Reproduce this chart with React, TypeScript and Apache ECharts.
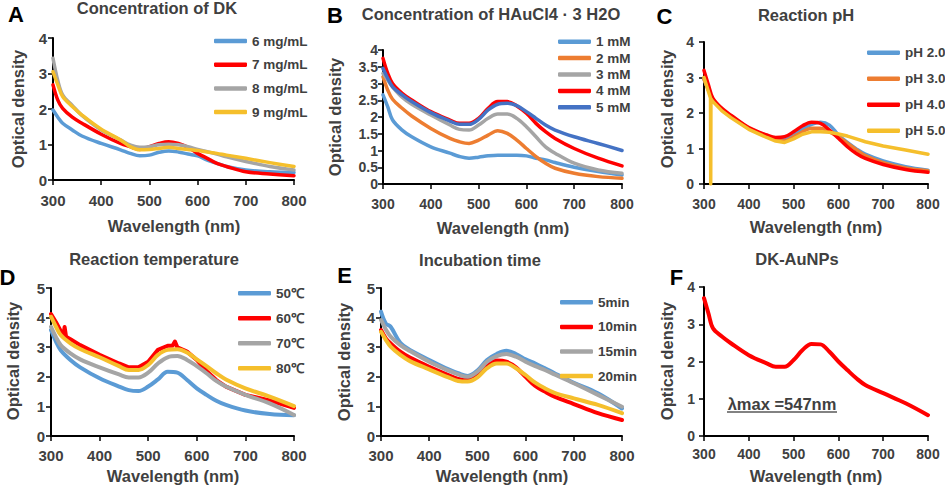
import React, { useEffect, useRef } from "react";
import * as echarts from "echarts";

// ---------- DATA ----------
const WAVELENGTHS = [300, 310, 320, 340, 360, 400, 440, 460, 480, 500, 520, 540, 560, 580, 600, 620, 640, 660, 700, 750, 800];
const X_TICKS = [300, 400, 500, 600, 700, 800];

// A: Concentration of DK
const A_NAMES = ["6 mg/mL", "7 mg/mL", "8 mg/mL", "9 mg/mL"];
const A_6 = [1.97, 1.77, 1.6, 1.41, 1.24, 1.03, 0.85, 0.75, 0.68, 0.7, 0.78, 0.82, 0.79, 0.73, 0.68, 0.56, 0.47, 0.38, 0.28, 0.23, 0.21];
const A_7 = [2.68, 2.25, 2.02, 1.77, 1.6, 1.29, 1.03, 0.94, 0.86, 0.94, 1.03, 1.08, 1.03, 0.92, 0.75, 0.61, 0.47, 0.38, 0.23, 0.17, 0.12];
const A_8 = [3.43, 2.8, 2.4, 2.1, 1.82, 1.41, 1.13, 0.99, 0.92, 0.94, 0.99, 1.01, 0.99, 0.94, 0.86, 0.8, 0.73, 0.65, 0.52, 0.38, 0.28];
const A_9 = [3.05, 2.68, 2.35, 2.07, 1.83, 1.43, 1.13, 0.94, 0.85, 0.86, 0.89, 0.92, 0.89, 0.86, 0.83, 0.79, 0.75, 0.7, 0.61, 0.49, 0.38];

// B: Concentration of HAuCl4 · 3 H2O
const B_NAMES = ["1 mM", "2 mM", "3 mM", "4 mM", "5 mM"];
const B_1 = [2.66, 2.3, 1.91, 1.61, 1.41, 1.11, 0.92, 0.82, 0.77, 0.8, 0.84, 0.86, 0.86, 0.86, 0.84, 0.77, 0.72, 0.64, 0.5, 0.37, 0.27];
const B_2 = [3.2, 2.8, 2.53, 2.26, 2.03, 1.66, 1.36, 1.26, 1.21, 1.31, 1.46, 1.59, 1.51, 1.31, 1.06, 0.82, 0.62, 0.47, 0.32, 0.22, 0.17];
const B_3 = [3.3, 3.1, 2.9, 2.59, 2.38, 2.06, 1.76, 1.63, 1.61, 1.76, 1.96, 2.09, 2.09, 1.96, 1.71, 1.41, 1.11, 0.92, 0.62, 0.42, 0.32];
const B_4 = [3.75, 3.3, 3.0, 2.71, 2.51, 2.16, 1.91, 1.81, 1.81, 1.96, 2.26, 2.46, 2.46, 2.33, 2.11, 1.81, 1.56, 1.36, 1.06, 0.77, 0.54];
const B_5 = [3.45, 3.15, 2.9, 2.66, 2.46, 2.13, 1.88, 1.78, 1.78, 1.93, 2.21, 2.38, 2.41, 2.34, 2.16, 1.96, 1.76, 1.61, 1.41, 1.21, 1.0];

// C: Reaction pH
const C_NAMES = ["pH 2.0", "pH 3.0", "pH 4.0", "pH 5.0"];
const C_2 = [2.95, 2.65, 2.38, 2.1, 1.92, 1.57, 1.36, 1.28, 1.24, 1.38, 1.55, 1.68, 1.74, 1.66, 1.38, 1.17, 0.99, 0.84, 0.65, 0.49, 0.39];
const C_3 = [2.95, 2.65, 2.38, 2.1, 1.92, 1.57, 1.34, 1.25, 1.21, 1.33, 1.47, 1.57, 1.57, 1.47, 1.33, 1.15, 0.97, 0.8, 0.6, 0.45, 0.37];
const C_4 = [3.2, 2.79, 2.41, 2.13, 1.94, 1.59, 1.38, 1.31, 1.33, 1.47, 1.64, 1.74, 1.71, 1.52, 1.29, 1.05, 0.86, 0.72, 0.55, 0.41, 0.33];
const C_5_WL = [300, 310, 314.5, 315, 315.5, 320, 340, 360, 400, 440, 460, 480, 500, 520, 540, 560, 580, 600, 620, 640, 660, 700, 750, 800];
const C_5 = [3.0, 2.6, 2.42, 0, 2.4, 2.32, 2.06, 1.87, 1.54, 1.31, 1.21, 1.17, 1.27, 1.4, 1.47, 1.47, 1.46, 1.41, 1.35, 1.27, 1.19, 1.07, 0.96, 0.84];

// D: Reaction temperature
const D_NAMES = ["50℃", "60℃", "70℃", "80℃"];
const D_50 = [3.58, 3.2, 2.9, 2.57, 2.32, 1.95, 1.67, 1.55, 1.52, 1.67, 1.91, 2.17, 2.14, 1.89, 1.61, 1.39, 1.19, 1.05, 0.86, 0.74, 0.7];
const D_60_WL = [300, 310, 320, 326, 328, 331, 340, 360, 400, 440, 460, 480, 500, 520, 540, 550, 555, 560, 580, 600, 620, 640, 660, 700, 750, 800];
const D_60 = [4.12, 3.85, 3.55, 3.42, 3.68, 3.35, 3.27, 3.07, 2.74, 2.45, 2.32, 2.32, 2.51, 2.91, 3.05, 3.05, 3.19, 3.0, 2.85, 2.57, 2.2, 1.89, 1.67, 1.39, 1.2, 0.95];
const D_70 = [3.69, 3.35, 3.07, 2.79, 2.59, 2.32, 2.08, 1.98, 1.98, 2.14, 2.45, 2.66, 2.7, 2.57, 2.36, 2.12, 1.86, 1.67, 1.39, 1.1, 0.71];
const D_80 = [4.03, 3.7, 3.41, 3.13, 2.94, 2.66, 2.36, 2.23, 2.23, 2.4, 2.74, 2.91, 2.93, 2.82, 2.59, 2.36, 2.12, 1.91, 1.61, 1.33, 1.01];

// E: Incubation time
const E_NAMES = ["5min", "10min", "15min", "20min"];
const E_5 = [4.2, 3.8, 3.69, 3.15, 2.91, 2.57, 2.25, 2.12, 2.03, 2.21, 2.57, 2.77, 2.88, 2.77, 2.59, 2.45, 2.29, 2.12, 1.8, 1.44, 0.93];
const E_10 = [3.58, 3.3, 3.13, 2.85, 2.65, 2.34, 2.06, 1.93, 1.89, 2.06, 2.36, 2.55, 2.51, 2.32, 2.0, 1.69, 1.5, 1.33, 1.08, 0.77, 0.54];
const E_15 = [3.92, 3.6, 3.36, 3.07, 2.87, 2.51, 2.21, 2.08, 2.0, 2.17, 2.51, 2.7, 2.77, 2.68, 2.51, 2.36, 2.23, 2.08, 1.78, 1.39, 0.99];
const E_20 = [3.52, 3.25, 3.02, 2.74, 2.53, 2.25, 1.98, 1.86, 1.84, 1.98, 2.29, 2.45, 2.45, 2.29, 2.06, 1.8, 1.61, 1.46, 1.27, 1.05, 0.77];

// F: DK-AuNPs
const F_NAME = "DK-AuNPs";
const F_VALUES = [3.7, 3.29, 2.89, 2.67, 2.49, 2.17, 1.95, 1.86, 1.86, 2.04, 2.31, 2.47, 2.46, 2.26, 2.0, 1.77, 1.55, 1.37, 1.15, 0.88, 0.56];

const TITLES = ["Concentration of DK", "Concentration of HAuCl4 · 3 H2O", "Reaction pH", "Reaction temperature", "Incubation time", "DK-AuNPs"];
const LETTERS = ["A", "B", "C", "D", "E", "F"];
const X_NAME = "Wavelength (nm)";
const Y_NAME = "Optical density";
const ANNOTATION = "λmax =547nm";

// ---------- STYLE ----------
const FONT = "'Liberation Sans', Arial, Helvetica, sans-serif";
const TXT = "#404040";
const BLUE = "#5B9BD5";
const RED = "#FF0000";
const GRAY = "#A5A5A5";
const YELLOW = "#F5BF2C";
const ORANGE = "#ED7D31";
const DBLUE = "#4472C4";

const PANELS = [
  { grid: { left: 53, top: 38, width: 241, height: 142 }, yMax: 4, yStep: 1, fs: 15, xm: 13, ym: 6, legend: { left: 214, top: 33, gap: 7.7, lh: 16 }, names: A_NAMES, title: [157, 8], letter: [16, 14.5], yName: [17.5, 109], xName: [174, 226] },
  { grid: { left: 383, top: 50, width: 239, height: 134 }, yMax: 4, yStep: 0.5, fs: 14, xm: 13, ym: 5, legend: { left: 558, top: 34.7, gap: 2.4, lh: 14 }, names: B_NAMES, title: [491, 14], letter: [335, 15.5], yName: [335, 117], xName: [503, 228] },
  { grid: { left: 704, top: 42, width: 224, height: 142 }, yMax: 4, yStep: 1, fs: 14, xm: 13, ym: 10, legend: { left: 867, top: 44.7, gap: 10, lh: 16 }, names: C_NAMES, title: [806, 15], letter: [664.5, 16.5], yName: [667, 109], xName: [816, 227] },
  { grid: { left: 51, top: 288, width: 243, height: 148 }, yMax: 5, yStep: 1, fs: 15, xm: 11.5, ym: 6, legend: { left: 238, top: 285.3, gap: 9, lh: 16 }, names: D_NAMES, title: [154, 259], letter: [7.5, 277.5], yName: [13, 361], xName: [173, 476] },
  { grid: { left: 381, top: 288, width: 241, height: 148 }, yMax: 5, yStep: 1, fs: 15, xm: 11.5, ym: 6, legend: { left: 560, top: 294.3, gap: 8.6, lh: 16 }, names: E_NAMES, title: [480, 260], letter: [344.5, 275], yName: [344, 362], xName: [502, 476] },
  { grid: { left: 704, top: 287, width: 224, height: 149 }, yMax: 4, yStep: 1, fs: 14, xm: 10.5, ym: 9, legend: null, names: [], title: [797, 259], letter: [676.5, 277], yName: [667, 361], xName: [816, 476] },
];

function pairs(xs: number[], ys: number[]) {
  return xs.map((x, i) => [x, ys[i]]);
}

function lineSeries(name: string, idx: number, xs: number[], ys: number[], color: string, smooth: boolean | number = 0.35, width = 3.5) {
  return {
    type: "line",
    name,
    xAxisIndex: idx,
    yAxisIndex: idx,
    data: pairs(xs, ys),
    showSymbol: false,
    symbol: "none",
    smooth,
    silent: true,
    color,
    itemStyle: { color },
    lineStyle: { width, color, cap: "round", join: "round" },
  };
}

export default function App() {
  const ref = useRef<HTMLDivElement>(null);

  useEffect(() => {
    if (!ref.current) return;
    const chart = echarts.init(ref.current, undefined, { renderer: "svg" });

    const grids = PANELS.map((p) => ({ ...p.grid, containLabel: false }));
    const xAxes = PANELS.map((p, i) => ({
      type: "value",
      gridIndex: i,
      min: X_TICKS[0],
      max: X_TICKS[X_TICKS.length - 1],
      interval: X_TICKS[1] - X_TICKS[0],
      axisLine: { show: true, onZero: false, lineStyle: { color: "#000", width: 2 } },
      axisTick: { show: true, length: 5, lineStyle: { color: "#000", width: 1.5 } },
      axisLabel: { color: TXT, fontSize: p.fs, fontWeight: "bold", fontFamily: FONT, margin: p.xm },
      splitLine: { show: false },
    }));
    const yAxes = PANELS.map((p, i) => ({
      type: "value",
      gridIndex: i,
      min: 0,
      max: p.yMax,
      interval: p.yStep,
      axisLine: { show: true, onZero: false, lineStyle: { color: "#000", width: 2 } },
      axisTick: { show: true, length: 5, lineStyle: { color: "#000", width: 1.5 } },
      axisLabel: { color: TXT, fontSize: p.fs, fontWeight: "bold", fontFamily: FONT, margin: p.ym },
      splitLine: { show: false },
    }));

    const W = WAVELENGTHS;
    const series = [
      lineSeries(A_NAMES[0], 0, W, A_6, BLUE),
      lineSeries(A_NAMES[1], 0, W, A_7, RED),
      lineSeries(A_NAMES[2], 0, W, A_8, GRAY),
      lineSeries(A_NAMES[3], 0, W, A_9, YELLOW),
      lineSeries(B_NAMES[0], 1, W, B_1, BLUE),
      lineSeries(B_NAMES[1], 1, W, B_2, ORANGE),
      lineSeries(B_NAMES[2], 1, W, B_3, GRAY),
      lineSeries(B_NAMES[3], 1, W, B_4, RED),
      lineSeries(B_NAMES[4], 1, W, B_5, DBLUE),
      lineSeries(C_NAMES[0], 2, W, C_2, BLUE),
      lineSeries(C_NAMES[1], 2, W, C_3, ORANGE),
      lineSeries(C_NAMES[2], 2, W, C_4, RED),
      lineSeries(C_NAMES[3], 2, C_5_WL, C_5, YELLOW, false),
      lineSeries(D_NAMES[0], 3, W, D_50, BLUE, 0.35, 4),
      lineSeries(D_NAMES[1], 3, D_60_WL, D_60, RED, false, 4),
      lineSeries(D_NAMES[2], 3, W, D_70, GRAY, 0.35, 4),
      lineSeries(D_NAMES[3], 3, W, D_80, YELLOW, 0.35, 4),
      lineSeries(E_NAMES[0], 4, W, E_5, BLUE, 0.35, 4),
      lineSeries(E_NAMES[1], 4, W, E_10, RED, 0.35, 4),
      lineSeries(E_NAMES[2], 4, W, E_15, GRAY, 0.35, 4),
      lineSeries(E_NAMES[3], 4, W, E_20, YELLOW, 0.35, 4),
      lineSeries(F_NAME, 5, W, F_VALUES, RED, 0.35, 4),
    ];

    const legends = PANELS.filter((p) => p.legend).map((p) => ({
      data: p.names,
      orient: "vertical",
      left: p.legend!.left,
      top: p.legend!.top,
      itemGap: p.legend!.gap,
      itemWidth: 33,
      itemHeight: 4.5,
      icon: "roundRect",
      padding: 0,
      selectedMode: false,
      textStyle: { color: TXT, fontSize: 13.5, fontWeight: "bold", fontFamily: FONT, lineHeight: p.legend!.lh },
    }));

    const graphics: any[] = [];
    PANELS.forEach((p, i) => {
      graphics.push({
        type: "text", x: p.title[0], y: p.title[1], silent: true,
        style: { text: TITLES[i], fill: TXT, fontSize: 16.5, fontWeight: "bold", fontFamily: FONT, align: "center", verticalAlign: "middle" },
      });
      graphics.push({
        type: "text", x: p.letter[0], y: p.letter[1], silent: true,
        style: { text: LETTERS[i], fill: "#000", fontSize: 22, fontWeight: "bold", fontFamily: FONT, align: "center", verticalAlign: "middle" },
      });
      graphics.push({
        type: "text", x: p.yName[0], y: p.yName[1], rotation: Math.PI / 2, silent: true,
        style: { text: Y_NAME, fill: TXT, fontSize: 16.5, fontWeight: "bold", fontFamily: FONT, align: "center", verticalAlign: "middle" },
      });
      graphics.push({
        type: "text", x: p.xName[0], y: p.xName[1], silent: true,
        style: { text: X_NAME, fill: TXT, fontSize: 16.5, fontWeight: "bold", fontFamily: FONT, align: "center", verticalAlign: "middle" },
      });
    });
    graphics.push({
      type: "text", x: 782, y: 403.5, silent: true,
      style: { text: ANNOTATION, fill: TXT, fontSize: 16.5, fontWeight: "bold", fontFamily: FONT, align: "center", verticalAlign: "middle" },
    });
    graphics.push({
      type: "line", silent: true,
      shape: { x1: 727, y1: 412, x2: 837, y2: 412 },
      style: { stroke: "#595959", lineWidth: 1.5 },
    });

    chart.setOption({
      animation: false,
      backgroundColor: "#fff",
      grid: grids,
      xAxis: xAxes,
      yAxis: yAxes,
      legend: legends,
      series,
      graphic: graphics,
    });

    return () => chart.dispose();
  }, []);

  return (
    <div
      ref={ref}
      style={{ position: "fixed", left: 0, top: 0, width: 945, height: 490, background: "#fff" }}
    />
  );
}
